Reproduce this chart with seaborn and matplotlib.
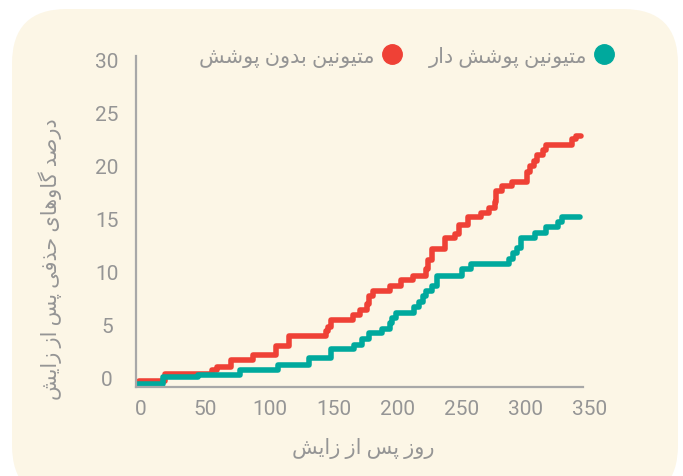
import pandas as pd
import matplotlib.pyplot as plt
import seaborn as sns
from matplotlib.patches import FancyBboxPatch
from matplotlib.lines import Line2D

# series names and axis texts
series_uncoated = "متیونین بدون پوشش"
series_coated = "متیونین پوشش دار"
x_title = "روز پس از زایش"
y_title = "درصد گاوهای حذفی پس از زایش"

# step curves (day, cumulative culling %)
days_uncoated = [-1.5, 19, 55, 59, 70, 87, 105, 115, 144, 146, 148, 165, 171, 176, 178, 181,
                 194, 203, 212, 222, 224, 227, 237, 245, 248, 255, 265, 271, 276, 277, 281,
                 289, 301, 303, 306, 309, 313, 316, 336, 339, 343]
pct_uncoated = [-0.3, 0.28, 0.69, 1.0, 1.63, 2.14, 2.92, 3.9, 4.37, 4.78, 5.4, 5.85, 6.4, 6.9,
                7.67, 8.14, 8.6, 9.2, 9.6, 10.2, 11.1, 12.15, 13.1, 13.55, 14.4, 15.1, 15.5,
                16.0, 16.55, 17.6, 18.05, 18.45, 19.4, 19.9, 20.4, 21.0, 21.4, 21.95, 22.45,
                22.8, 22.8]

days_coated = [-3, 17, 44, 77, 107, 131, 148, 166, 172, 178, 188, 194, 196, 199, 213, 217, 220,
               222, 227, 231, 250, 257, 287, 290, 293, 296, 307, 316, 325, 328, 342]
pct_coated = [-0.66, 0.03, 0.25, 0.7, 1.2, 1.8, 2.64, 3.1, 3.6, 4.15, 4.6, 5.15, 5.6, 6.1, 6.6,
              7.1, 7.67, 8.14, 8.6, 9.6, 10.2, 10.66, 11.13, 11.7, 12.2, 13.1, 13.65, 14.2,
              14.7, 15.15, 15.15]

x_ticks = [0, 50, 100, 150, 200, 250, 300, 350]
y_ticks = [0, 5, 10, 15, 20, 25, 30]

RED = "#ef4136"
TEAL = "#00a99d"
BG = "#fcf6e6"
TXT = "#959595"

# matplotlib does not join arabic letters, so pick presentation forms by hand
FORMS = {
    "ا": (0xFE8D, 0xFE8E, None, None), "ب": (0xFE8F, 0xFE90, 0xFE91, 0xFE92),
    "پ": (0xFB56, 0xFB57, 0xFB58, 0xFB59), "ت": (0xFE95, 0xFE96, 0xFE97, 0xFE98),
    "ح": (0xFEA1, 0xFEA2, 0xFEA3, 0xFEA4), "د": (0xFEA9, 0xFEAA, None, None),
    "ذ": (0xFEAB, 0xFEAC, None, None), "ر": (0xFEAD, 0xFEAE, None, None),
    "ز": (0xFEAF, 0xFEB0, None, None), "س": (0xFEB1, 0xFEB2, 0xFEB3, 0xFEB4),
    "ش": (0xFEB5, 0xFEB6, 0xFEB7, 0xFEB8), "ص": (0xFEB9, 0xFEBA, 0xFEBB, 0xFEBC),
    "ف": (0xFED1, 0xFED2, 0xFED3, 0xFED4), "گ": (0xFB92, 0xFB93, 0xFB94, 0xFB95),
    "م": (0xFEE1, 0xFEE2, 0xFEE3, 0xFEE4), "ن": (0xFEE5, 0xFEE6, 0xFEE7, 0xFEE8),
    "ه": (0xFEE9, 0xFEEA, 0xFEEB, 0xFEEC), "و": (0xFEED, 0xFEEE, None, None),
    "ی": (0xFBFC, 0xFBFD, 0xFBFE, 0xFBFF),
}


def shape(s):
    out = []
    for i, c in enumerate(s):
        if c not in FORMS:
            out.append(c)
            continue
        prev = s[i - 1] if i > 0 else " "
        nxt = s[i + 1] if i < len(s) - 1 else " "
        join_prev = prev in FORMS and FORMS[prev][2] is not None
        join_next = FORMS[c][2] is not None and nxt in FORMS
        iso, fin, ini, med = FORMS[c]
        if join_prev and join_next:
            code = med
        elif join_prev:
            code = fin
        elif join_next:
            code = ini
        else:
            code = iso
        out.append(chr(code))
    return "".join(out)[::-1]


df = pd.concat([
    pd.DataFrame({"day": days_uncoated, "pct": pct_uncoated, "group": series_uncoated}),
    pd.DataFrame({"day": days_coated, "pct": pct_coated, "group": series_coated}),
])

sns.set_style("white")
plt.rcParams["font.family"] = ["Roboto", "DejaVu Sans"]

fig = plt.figure(figsize=(6.83, 4.77), dpi=100)
fig.patch.set_facecolor("white")
fig.patches.append(FancyBboxPatch((12 / 683, -0.05), 666 / 683, 1.0 - 10 / 477 + 0.05,
                                  boxstyle="round,pad=0,rounding_size=0.08",
                                  transform=fig.transFigure, facecolor=BG, edgecolor="none",
                                  mutation_aspect=683 / 477, zorder=-10))

# axes box runs a bit past the spine so the 350 label sits where it does in the original
ax = fig.add_axes([136 / 683, 1 - 388 / 477, 454 / 683, (388 - 57) / 477])
ax.patch.set_alpha(0)

sns.lineplot(data=df, x="day", y="pct", hue="group", estimator=None, sort=False,
             palette={series_uncoated: RED, series_coated: TEAL},
             hue_order=[series_uncoated, series_coated],
             drawstyle="steps-post", linewidth=4.0, legend=False, ax=ax)

ax.set_xticks(x_ticks)
ax.set_yticks(y_ticks)
ax.set_xlim(-4, 350)
ax.set_ylim(-0.9, 30.3)
ax.tick_params(axis="x", length=0, pad=9, labelsize=15, labelcolor=TXT)
ax.tick_params(axis="y", length=0, pad=21, labelsize=15, labelcolor=TXT)
for lab in ax.get_yticklabels():
    lab.set_horizontalalignment("center")
for side in ["top", "right"]:
    ax.spines[side].set_visible(False)
for side in ["left", "bottom"]:
    ax.spines[side].set_color("#a8a8a8")
    ax.spines[side].set_linewidth(1.6)
ax.spines["bottom"].set_bounds(-4, 344.5)

ax.set_xlabel(shape(x_title), fontsize=15, color=TXT, labelpad=13)
ax.set_ylabel(shape(y_title), fontsize=15, color=TXT)
ax.yaxis.set_label_coords(-0.163, 0.39)

handles = [Line2D([], [], marker="o", linestyle="none", markersize=14, color=RED),
           Line2D([], [], marker="o", linestyle="none", markersize=14, color=TEAL)]
ax.legend(handles, [shape(series_uncoated), shape(series_coated)], ncol=2, markerfirst=False,
          frameon=False, loc="center right", bbox_to_anchor=(623 / 683, 1 - 57 / 477),
          bbox_transform=fig.transFigure, fontsize=15, labelcolor=TXT,
          handletextpad=0.3, columnspacing=1.3, borderaxespad=0, handlelength=1.0)

fig.savefig("out.png", dpi=100, facecolor="white")
